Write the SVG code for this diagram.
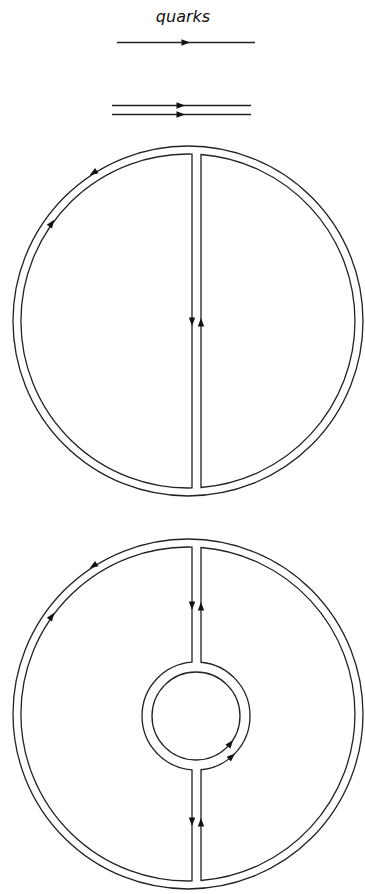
<svg xmlns="http://www.w3.org/2000/svg" width="365" height="894" viewBox="0 0 365 894">
<style>
.ln{fill:none;stroke:#222;stroke-width:1.3}
.ar{fill:#111}
.lbl{font-family:"DejaVu Sans",sans-serif;font-style:italic;font-size:16px;fill:#111}
</style>
<defs>
<path id="ah" d="M -4.5 -3.2 L 4 0 L -4.5 3.2 Z"/>
</defs>
<rect width="365" height="894" fill="#fff"/>
<g id="legend">
<text class="lbl" x="183" y="22" text-anchor="middle">quarks</text>
<line class="ln" x1="117" y1="42.5" x2="255" y2="42.5"/>
<use href="#ah" class="ar" transform="translate(186,42.5)"/>
<line class="ln" x1="112" y1="105.5" x2="251" y2="105.5"/>
<line class="ln" x1="112" y1="114.5" x2="251" y2="114.5"/>
<use href="#ah" class="ar" transform="translate(181,105.5)"/>
<use href="#ah" class="ar" transform="translate(181,114.5)"/>
</g>
<g id="diagram1">
<circle class="ln" cx="188" cy="321" r="175"/>
<path class="ln" d="M 192 154.05 A 167 167 0 1 0 192 487.95 Z"/>
<path class="ln" d="M 201 154.51 A 167 167 0 0 1 201 487.49 Z"/>
</g>
<g id="diagram2">
<circle class="ln" cx="188" cy="714" r="175"/>
<path class="ln" d="M 192 547.05 A 167 167 0 1 0 192 880.95 L 192 769.85 A 54 54 0 0 1 192 662.15 Z"/>
<path class="ln" d="M 201 547.51 A 167 167 0 0 1 201 880.49 L 201 769.77 A 54 54 0 0 0 201 662.23 Z"/>
<circle class="ln" cx="196" cy="716" r="44"/>
</g>
<g id="connectors">
<use href="#ah" class="ar" transform="translate(93,173) rotate(147.3)"/>
<use href="#ah" class="ar" transform="translate(52,223) rotate(-54.2)"/>
<use href="#ah" class="ar" transform="translate(192,322) rotate(90)"/>
<use href="#ah" class="ar" transform="translate(201,322) rotate(-90)"/>
<use href="#ah" class="ar" transform="translate(93,566) rotate(147.3)"/>
<use href="#ah" class="ar" transform="translate(52,616) rotate(-54.2)"/>
<use href="#ah" class="ar" transform="translate(192,606) rotate(90)"/>
<use href="#ah" class="ar" transform="translate(201,606) rotate(-90)"/>
<use href="#ah" class="ar" transform="translate(192,822) rotate(90)"/>
<use href="#ah" class="ar" transform="translate(201,822) rotate(-90)"/>
<use href="#ah" class="ar" transform="translate(230.7,743.1) rotate(-52)"/>
<use href="#ah" class="ar" transform="translate(232.1,756.1) rotate(-42)"/>
</g>
</svg>
